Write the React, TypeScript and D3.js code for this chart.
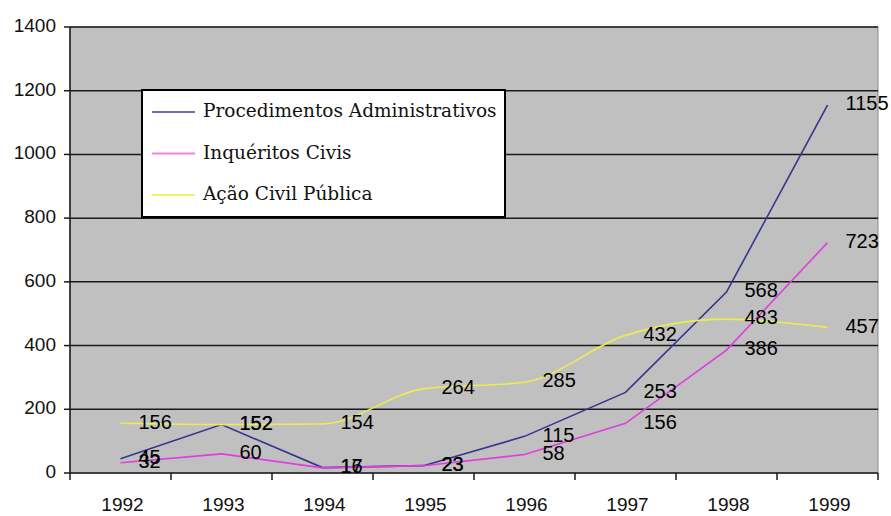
import React from 'react';
import * as d3 from 'd3';

const years = ['1992', '1993', '1994', '1995', '1996', '1997', '1998', '1999'];
const procedimentos = [45, 152, 17, 23, 115, 253, 568, 1155];
const inqueritos = [32, 60, 16, 23, 58, 156, 386, 723];
const acaoCivil = [156, 152, 154, 264, 285, 432, 483, 457];
const yTicks = [0, 200, 400, 600, 800, 1000, 1200, 1400];

const seriesList = [
    { name: 'Procedimentos Administrativos', values: procedimentos, color: '#35358f', legendColor: '#7070b8', smooth: false },
    { name: 'Inquéritos Civis', values: inqueritos, color: '#e03ce0', legendColor: '#f080f0', smooth: false },
    { name: 'Ação Civil Pública', values: acaoCivil, color: '#ecec50', legendColor: '#f4f460', smooth: true },
];

const W = 891;
const H = 516;
const margin = { top: 27, right: 13, bottom: 43, left: 70 };

export default function App() {
    const x = d3.scaleBand<string>()
        .domain(years)
        .range([margin.left, W - margin.right]);

    const y = d3.scaleLinear()
        .domain([0, 1400])
        .range([H - margin.bottom, margin.top]);

    const cx = (yr: string) => (x(yr) ?? 0) + x.bandwidth() / 2;

    const bandEdges = years.map(yr => x(yr) ?? 0).concat([W - margin.right]);

    return (
        <svg width={W} height={H} style={{ position: 'absolute', left: 0, top: 0, background: '#fff' }}
            fontFamily="'Liberation Sans', Arial, sans-serif">
            {/* plot area */}
            <rect x={margin.left} y={margin.top} width={W - margin.left - margin.right}
                height={H - margin.top - margin.bottom} fill="#c0c0c0" stroke="#8a8a8a" strokeWidth={1} />

            {/* gridlines */}
            {yTicks.filter(t => t > 0).map(t => (
                <line key={t} x1={margin.left} x2={W - margin.right} y1={y(t)} y2={y(t)} stroke="#1a1a1a" strokeWidth={1.5} />
            ))}

            {/* y axis */}
            <line x1={margin.left} x2={margin.left} y1={margin.top} y2={y(0)} stroke="#1a1a1a" strokeWidth={1.5} />
            {yTicks.map(t => (
                <g key={t}>
                    <line x1={margin.left - 6} x2={margin.left} y1={y(t)} y2={y(t)} stroke="#1a1a1a" strokeWidth={1.5} />
                    <text x={56} y={y(t)} textAnchor="end" dominantBaseline="middle" fontSize={19} fill="#111">{t}</text>
                </g>
            ))}

            {/* x axis */}
            <line x1={margin.left} x2={W - margin.right} y1={y(0)} y2={y(0)} stroke="#1a1a1a" strokeWidth={1.5} />
            {bandEdges.map((bx, i) => (
                <line key={i} x1={bx} x2={bx} y1={y(0)} y2={y(0) + 7} stroke="#1a1a1a" strokeWidth={1.5} />
            ))}
            {years.map(yr => (
                <text key={yr} x={cx(yr) + 2} y={506} textAnchor="middle" dominantBaseline="middle" fontSize={19} fill="#111">{yr}</text>
            ))}

            {/* lines */}
            {seriesList.map(s => {
                const line = d3.line<number>()
                    .x((_, i) => cx(years[i]))
                    .y(d => y(d))
                    .curve(s.smooth ? d3.curveMonotoneX : d3.curveLinear);
                return <path key={s.name} d={line(s.values) ?? ''} fill="none" stroke={s.color} strokeWidth={1.6} />;
            })}

            {/* data labels */}
            {seriesList.map(s => s.values.map((v, i) => (
                <text key={s.name + i} x={cx(years[i]) + 18} y={y(v)} dominantBaseline="middle"
                    fontSize={20} fill="#000">{v}</text>
            )))}

            {/* legend */}
            <g>
                <rect x={142} y={90} width={363} height={127} fill="#fff" stroke="#000" strokeWidth={2} />
                {seriesList.map((s, i) => (
                    <g key={s.name} transform={`translate(152,${112 + i * 41.5})`}>
                        <line x1={0} x2={43} y1={0} y2={0} stroke={s.legendColor} strokeWidth={2} />
                        <text x={51} y={0} dominantBaseline="middle" fontSize={18.5}
                            fontFamily="'DejaVu Serif', serif" fill="#111">{s.name}</text>
                    </g>
                ))}
            </g>
        </svg>
    );
}
